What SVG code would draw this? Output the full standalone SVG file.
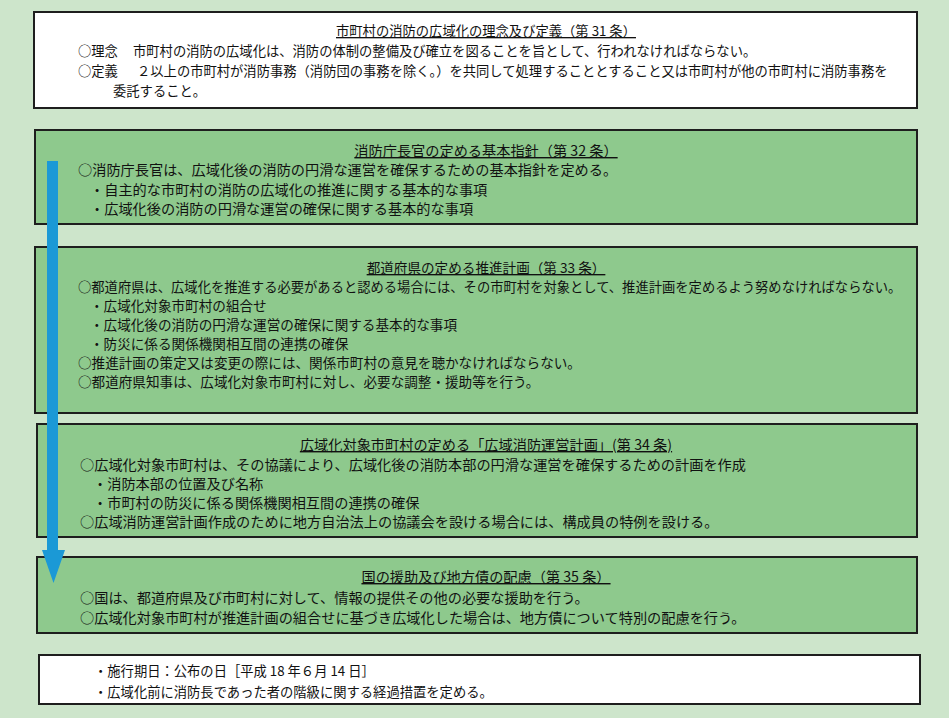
<svg xmlns="http://www.w3.org/2000/svg" width="949" height="718" viewBox="0 0 949 718">
<style>
.bg{fill:#cde5cb}
.box{stroke:#1e1e1e;stroke-width:2}
.w{fill:#ffffff}
.g{fill:#8ec98d}
text{font-family:"Noto Sans CJK JP","Noto Sans",sans-serif;font-size:13.3px;fill:#111}
.lg text{font-size:14.2px}
.md text{font-size:13.6px}
.md text.sm{font-size:13.3px}
.t{text-anchor:middle;text-decoration:underline}
.arrow{fill:#1b99d6}
</style>
<rect class="bg" x="0" y="0" width="949" height="718"/>
<g id="node-definition">
<rect class="box w" x="34" y="12" width="883" height="96"/>
<text class="t" x="486" y="36">市町村の消防の広域化の理念及び定義（第 31 条）</text>
<text x="78" y="56">○理念</text>
<text x="133" y="56">市町村の消防の広域化は、消防の体制の整備及び確立を図ることを旨として、行われなければならない。</text>
<text x="78" y="76">○定義</text>
<text x="137" y="76">２以上の市町村が消防事務（消防団の事務を除く。）を共同して処理することとすること又は市町村が他の市町村に消防事務を</text>
<text x="113" y="96">委託すること。</text>
</g>
<g id="node-art32" class="lg">
<rect class="box g" x="35" y="130" width="882" height="94"/>
<text class="t" x="486" y="156">消防庁長官の定める基本指針（第 32 条）</text>
<text x="78" y="175">○消防庁長官は、広域化後の消防の円滑な運営を確保するための基本指針を定める。</text>
<text x="90" y="195">・自主的な市町村の消防の広域化の推進に関する基本的な事項</text>
<text x="90" y="214">・広域化後の消防の円滑な運営の確保に関する基本的な事項</text>
</g>
<g id="node-art33" class="md">
<rect class="box g" x="35" y="247" width="882" height="166"/>
<text class="t" x="486" y="273">都道府県の定める推進計画（第 33 条）</text>
<text class="sm" x="78" y="292">○都道府県は、広域化を推進する必要があると認める場合には、その市町村を対象として、推進計画を定めるよう努めなければならない。</text>
<text x="90" y="311">・広域化対象市町村の組合せ</text>
<text x="90" y="330">・広域化後の消防の円滑な運営の確保に関する基本的な事項</text>
<text x="90" y="349">・防災に係る関係機関相互間の連携の確保</text>
<text x="78" y="368">○推進計画の策定又は変更の際には、関係市町村の意見を聴かなければならない。</text>
<text x="78" y="387">○都道府県知事は、広域化対象市町村に対し、必要な調整・援助等を行う。</text>
</g>
<g id="node-art34" class="lg">
<rect class="box g" x="37" y="424" width="880" height="113"/>
<text class="t" x="486" y="450">広域化対象市町村の定める「広域消防運営計画」(第 34 条)</text>
<text x="80" y="470">○広域化対象市町村は、その協議により、広域化後の消防本部の円滑な運営を確保するための計画を作成</text>
<text x="93" y="489">・消防本部の位置及び名称</text>
<text x="93" y="508">・市町村の防災に係る関係機関相互間の連携の確保</text>
<text x="80" y="527">○広域消防運営計画作成のために地方自治法上の協議会を設ける場合には、構成員の特例を設ける。</text>
</g>
<g id="node-art35" class="lg">
<rect class="box g" x="37" y="557" width="880" height="76"/>
<text class="t" x="486" y="582">国の援助及び地方債の配慮（第 35 条）</text>
<text x="80" y="603">○国は、都道府県及び市町村に対して、情報の提供その他の必要な援助を行う。</text>
<text x="80" y="623">○広域化対象市町村が推進計画の組合せに基づき広域化した場合は、地方債について特別の配慮を行う。</text>
</g>
<g id="node-notes">
<rect class="box w" x="39" y="655" width="881" height="49"/>
<text x="94" y="676">・施行期日：公布の日［平成 18 年６月 14 日］</text>
<text x="94" y="697">・広域化前に消防長であった者の階級に関する経過措置を定める。</text>
</g>
<g id="connectors">
<path class="arrow" d="M47,161 H58 V550 H65 L53.5,583 L42,550 H47 Z"/>
</g>
</svg>
